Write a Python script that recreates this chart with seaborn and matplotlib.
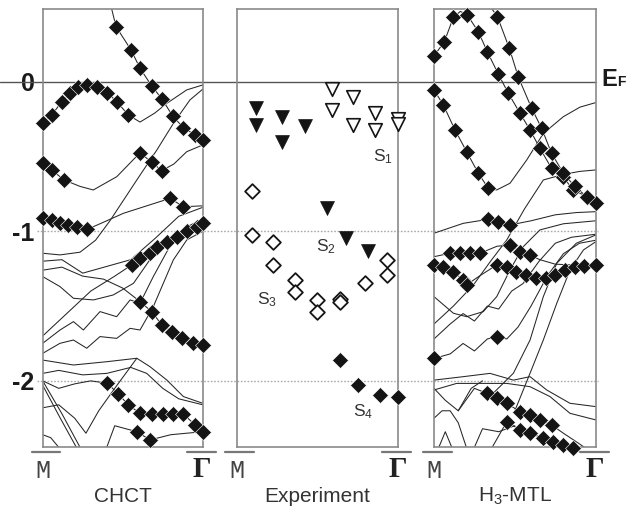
import pandas as pd
import matplotlib.pyplot as plt
import seaborn as sns

sns.set_theme(style='white')
plt.rcParams['font.family'] = ['Liberation Sans', 'DejaVu Sans']
plt.rcParams['mathtext.default'] = 'regular'

# energy range shown (eV, relative to E_F); k runs from M (0) to Gamma (1)
e_top, e_bottom = 0.484, -2.444
level_ticks = [0, -1, -2]
level_labels = ['0', '-1', '-2']
panel_titles = ['CHCT', 'Experiment', 'H$_3$-MTL']

# ---- CHCT calculated bands, (k, E) pairs ----
chct_b1 = [(0.43, 0.49), (0.458, 0.368), (0.552, 0.212), (0.608, 0.09), (0.681, -0.029), (0.747, -0.118),
           (0.812, -0.23), (0.879, -0.307), (0.952, -0.356), (1.0, -0.39)]
chct_b2 = [(0, -0.274), (0.056, -0.223), (0.119, -0.134), (0.171, -0.078), (0.223, -0.037), (0.279, -0.022),
           (0.341, -0.033), (0.404, -0.074), (0.463, -0.134), (0.535, -0.223), (0.608, -0.27), (0.7, -0.21),
           (0.775, -0.145), (0.9, -0.055), (1.0, -0.022)]
chct_b3 = [(0, -0.545), (0.056, -0.59), (0.133, -0.657), (0.233, -0.70), (0.316, -0.724), (0.463, -0.635),
           (0.608, -0.475), (0.681, -0.539), (0.744, -0.595), (0.82, -0.55), (0.9, -0.468), (1.0, -0.423)]
chct_b4 = [(0, -1.147), (0.108, -1.158), (0.233, -1.14), (0.33, -1.06), (0.42, -0.93), (0.5, -0.8),
           (0.588, -0.657), (0.713, -0.457), (0.817, -0.278), (0.92, -0.122), (1.0, -0.05)]
chct_b5 = [(0, -0.913), (0.056, -0.925), (0.108, -0.943), (0.16, -0.958), (0.216, -0.969), (0.279, -0.987),
           (0.4, -0.93), (0.504, -0.88), (0.65, -0.83), (0.796, -0.78), (0.879, -0.836), (1.0, -0.83)]
chct_b6 = [(0, -1.2), (0.12, -1.19), (0.25, -1.28), (0.4, -1.235), (0.55, -1.19), (0.7, -1.05),
           (0.85, -0.9), (1.0, -0.84)]
chct_b7 = [(0, -1.7), (0.15, -1.55), (0.3, -1.4), (0.45, -1.3), (0.556, -1.225), (0.608, -1.18),
           (0.671, -1.147), (0.713, -1.103), (0.775, -1.07), (0.838, -1.036), (0.9, -0.996),
           (0.9625, -0.969), (1.0, -0.943)]
chct_b8 = [(0, -1.303), (0.108, -1.37), (0.192, -1.448), (0.317, -1.459), (0.44, -1.426), (0.567, -1.348),
           (0.67, -1.19), (0.816, -1.058), (0.9, -0.97), (1.0, -0.92)]
chct_b9 = [(0, -1.749), (0.108, -1.66), (0.192, -1.604), (0.254, -1.66), (0.358, -1.537), (0.462, -1.571),
           (0.546, -1.459), (0.608, -1.481), (0.691, -1.303), (0.816, -1.058), (0.9, -0.99), (1.0, -0.96)]
chct_b10 = [(0, -1.816), (0.108, -1.749), (0.192, -1.727), (0.275, -1.782), (0.358, -1.704), (0.462, -1.716),
            (0.546, -1.649), (0.608, -1.66), (0.691, -1.504), (0.816, -1.192), (0.9, -1.058), (1.0, -1.0)]
chct_b11 = [(0, -1.26), (0.12, -1.24), (0.25, -1.3), (0.38, -1.32), (0.5, -1.38), (0.608, -1.47),
            (0.681, -1.537), (0.744, -1.626), (0.806, -1.671), (0.869, -1.715), (0.941, -1.749), (1.0, -1.76)]
chct_b12 = [(0, -1.861), (0.192, -1.894), (0.4, -1.872), (0.588, -1.849), (0.67, -1.905), (0.775, -1.994),
            (0.879, -2.105), (1.0, -2.15)]
chct_b13 = [(0, -1.95), (0.1, -1.93), (0.25, -1.96), (0.4, -1.95), (0.55, -1.91), (0.65, -1.95),
            (0.75, -2.05), (0.85, -2.12), (1.0, -2.16)]
chct_b14 = [(0, -2.0), (0.1, -2.05), (0.2, -2.02), (0.3, -2.0), (0.404, -2.016), (0.473, -2.088),
            (0.535, -2.161), (0.608, -2.217), (0.681, -2.221), (0.754, -2.221), (0.816, -2.221),
            (0.879, -2.221), (0.952, -2.295), (1.0, -2.34)]
chct_b15 = [(0, -2.0), (0.12, -2.22), (0.233, -2.444)]
chct_b16 = [(0, -2.03), (0.11, -2.25), (0.21, -2.444)]
chct_b17 = [(0, -2.18), (0.1, -2.16), (0.2, -2.25), (0.27, -2.35), (0.35, -2.2), (0.45, -2.05), (0.588, -1.849)]
chct_b18 = [(0.4, -2.444), (0.45, -2.3), (0.588, -2.34), (0.671, -2.395), (0.8, -2.36), (1.0, -2.34)]
chct_b19 = [(0, -2.36), (0.05, -2.38), (0.1, -2.444)]

# CHCT diamonds (dominant character)
chct_dia_k = [0.458, 0.552, 0.608, 0.681, 0.747, 0.812, 0.879, 0.952, 1.0,
              0, 0.056, 0.119, 0.171, 0.223, 0.279, 0.341, 0.404, 0.463, 0.535,
              0, 0.056, 0.133, 0.608, 0.681, 0.744,
              0, 0.056, 0.108, 0.16, 0.216, 0.279,
              0.796, 0.879,
              0.556, 0.608, 0.671, 0.713, 0.775, 0.838, 0.9, 0.9625, 1.0,
              0.608, 0.681, 0.744, 0.806, 0.869, 0.941, 1.0,
              0.404, 0.473, 0.535, 0.608, 0.681, 0.754, 0.816, 0.879, 0.952, 1.0,
              0.588, 0.671]
chct_dia_e = [0.368, 0.212, 0.09, -0.029, -0.118, -0.23, -0.307, -0.356, -0.39,
              -0.274, -0.223, -0.134, -0.078, -0.037, -0.022, -0.033, -0.074, -0.134, -0.223,
              -0.545, -0.59, -0.657, -0.475, -0.539, -0.595,
              -0.913, -0.925, -0.943, -0.958, -0.969, -0.987,
              -0.78, -0.836,
              -1.225, -1.18, -1.147, -1.103, -1.07, -1.036, -0.996, -0.969, -0.943,
              -1.47, -1.537, -1.626, -1.671, -1.715, -1.749, -1.76,
              -2.016, -2.088, -2.161, -2.217, -2.221, -2.221, -2.221, -2.221, -2.295, -2.34,
              -2.34, -2.395]

# ---- experiment (ARPES) ----
s1_k = [0.588, 0.588, 0.722, 0.722, 0.856, 0.856, 1.0, 1.0]
s1_e = [-0.051, -0.189, -0.1, -0.289, -0.211, -0.323, -0.251, -0.283]
s2_k = [0.119, 0.119, 0.278, 0.278, 0.423, 0.557, 0.676, 0.814]
s2_e = [-0.178, -0.289, -0.234, -0.401, -0.296, -0.846, -1.047, -1.13]
s3_k = [0.093, 0.093, 0.227, 0.227, 0.361, 0.361, 0.495, 0.495, 0.639, 0.639, 0.794, 0.928, 0.928]
s3_e = [-0.729, -1.025, -1.07, -1.225, -1.326, -1.404, -1.459, -1.537, -1.45, -1.47, -1.348, -1.192, -1.292]
s4_k = [0.639, 0.753, 0.887, 1.0]
s4_e = [-1.86, -2.027, -2.094, -2.106]
state_names = ['S$_1$', 'S$_2$', 'S$_3$', 'S$_4$']
state_k = [0.907, 0.553, 0.186, 0.783]
state_e = [-0.50, -1.103, -1.459, -2.206]

# ---- H3-MTL calculated bands ----
mtl_b1 = [(0, 0.172), (0.064, 0.267), (0.12, 0.43), (0.163, 0.47), (0.206, 0.446), (0.274, 0.334), (0.33, 0.2),
          (0.397, 0.052), (0.46, -0.078), (0.532, -0.211), (0.594, -0.323), (0.655, -0.445), (0.727, -0.579),
          (0.8, -0.64), (0.862, -0.724), (0.944, -0.768), (1.0, -0.81)]
mtl_b2 = [(0.36, 0.484), (0.392, 0.435), (0.466, 0.223), (0.522, 0.029), (0.604, -0.178), (0.666, -0.312),
          (0.727, -0.479), (0.8, -0.612), (0.87, -0.70), (0.944, -0.768), (1.0, -0.813)]
mtl_b3 = [(0, -0.055), (0.058, -0.156), (0.13, -0.323), (0.202, -0.468), (0.274, -0.612), (0.336, -0.713),
          (0.388, -0.724), (0.47, -0.679), (0.573, -0.524), (0.676, -0.346), (0.8, -0.234), (0.903, -0.17),
          (1.0, -0.14)]
mtl_b4 = [(0, -1.013), (0.181, -0.947), (0.336, -0.92), (0.398, -0.936), (0.47, -0.958), (0.6, -0.93),
          (0.75, -0.89), (0.88, -0.875), (1.0, -0.869)]
mtl_b5 = [(0, -1.62), (0.12, -1.5), (0.243, -1.36), (0.35, -1.2), (0.45, -1.058), (0.56, -0.85),
          (0.676, -0.657), (0.8, -0.62), (0.9, -0.6), (1.0, -0.59)]
mtl_b6 = [(0, -1.17), (0.099, -1.147), (0.161, -1.147), (0.223, -1.147), (0.284, -1.147), (0.39, -1.10),
          (0.47, -1.092), (0.532, -1.136), (0.594, -1.16), (0.655, -1.19), (0.75, -1.22), (0.85, -1.225),
          (1.0, -1.225)]
mtl_b7 = [(0, -1.225), (0.058, -1.236), (0.12, -1.27), (0.181, -1.325), (0.202, -1.358), (0.28, -1.3),
          (0.388, -1.225), (0.45, -1.24), (0.532, -1.28), (0.6, -1.31), (0.7, -1.31), (0.8, -1.26),
          (0.9, -1.23), (1.0, -1.225)]
mtl_b8 = [(0, -1.437), (0.12, -1.548), (0.202, -1.571), (0.305, -1.537), (0.388, -1.437), (0.47, -1.259),
          (0.552, -1.103), (0.655, -0.991), (0.8, -0.95), (1.0, -0.93)]
mtl_b9 = [(0, -1.72), (0.1, -1.62), (0.18, -1.55), (0.25, -1.6), (0.33, -1.5), (0.4, -1.52), (0.48, -1.4),
          (0.55, -1.35), (0.65, -1.2), (0.75, -1.08), (0.85, -1.04), (1.0, -1.02)]
mtl_b10 = [(0, -1.85), (0.1, -1.82), (0.18, -1.75), (0.25, -1.8), (0.33, -1.72), (0.388, -1.705),
           (0.45, -1.72), (0.52, -1.64), (0.6, -1.5), (0.7, -1.3), (0.8, -1.15), (0.9, -1.08), (1.0, -1.06)]
mtl_b11 = [(0.35, -2.1), (0.491, -1.949), (0.594, -1.727), (0.676, -1.437), (0.759, -1.214), (0.88, -1.08),
           (1.0, -1.025)]
mtl_b12 = [(0.5, -2.2), (0.594, -1.949), (0.676, -1.727), (0.759, -1.482), (0.841, -1.259), (0.924, -1.125),
           (1.0, -1.07)]
mtl_b13 = [(0, -1.995), (0.181, -1.972), (0.346, -1.95), (0.491, -1.995), (0.594, -1.972), (0.697, -2.061),
           (0.841, -2.15), (1.0, -2.172)]
mtl_b14 = [(0, -2.061), (0.14, -2.017), (0.284, -2.017), (0.45, -2.017), (0.594, -2.039), (0.717, -2.105),
           (0.841, -2.217), (1.0, -2.261)]
mtl_b15 = [(0.15, -2.2), (0.25, -2.05), (0.326, -2.083), (0.388, -2.116), (0.45, -2.15), (0.532, -2.206),
           (0.594, -2.228), (0.656, -2.262), (0.728, -2.295), (0.8, -2.35), (0.87, -2.40), (0.93, -2.444)]
mtl_b16 = [(0.36, -2.444), (0.45, -2.273), (0.532, -2.328), (0.594, -2.35), (0.676, -2.384), (0.738, -2.406),
           (0.8, -2.428), (0.862, -2.451)]
mtl_b17 = [(0, -2.05), (0.07, -2.13), (0.15, -2.2), (0.23, -2.05), (0.3, -2.0)]
mtl_b18 = [(0, -2.25), (0.05, -2.2), (0.1, -2.2), (0.15, -2.28), (0.2, -2.444)]
mtl_b19 = [(0.03, -2.444), (0.07, -2.34), (0.11, -2.444)]
mtl_b20 = [(0.25, -2.444), (0.3, -2.32), (0.4, -2.34), (0.5, -2.3)]

mtl_dia_k = [0, 0.064, 0.12, 0.206, 0.274, 0.33, 0.397, 0.46, 0.532, 0.594, 0.655, 0.727, 0.8, 0.862, 0.944, 1.0,
             0.392, 0.466, 0.522, 0.604, 0.666, 0.727, 0.8, 0.87, 0.944,
             0, 0.058, 0.13, 0.202, 0.274, 0.336,
             0.336, 0.398, 0.47,
             0.099, 0.161, 0.223, 0.284, 0.47, 0.532, 0.594,
             0, 0.058, 0.12, 0.181, 0.202, 0.388, 0.45, 0.51, 0.57, 0.63, 0.69, 0.75, 0.81, 0.87, 0.93, 1.0,
             0.388, 0,
             0.326, 0.388, 0.45, 0.532, 0.594, 0.656, 0.728,
             0.45, 0.532, 0.594, 0.676, 0.738, 0.8, 0.862]
mtl_dia_e = [0.172, 0.267, 0.43, 0.446, 0.334, 0.2, 0.052, -0.078, -0.211, -0.323, -0.445, -0.579, -0.64, -0.724,
             -0.768, -0.81,
             0.435, 0.223, 0.029, -0.178, -0.312, -0.479, -0.612, -0.70, -0.768,
             -0.055, -0.156, -0.323, -0.468, -0.612, -0.713,
             -0.92, -0.936, -0.958,
             -1.147, -1.147, -1.147, -1.147, -1.092, -1.136, -1.16,
             -1.225, -1.236, -1.27, -1.325, -1.358, -1.225, -1.24, -1.27, -1.29, -1.31, -1.31, -1.29, -1.26,
             -1.24, -1.23, -1.225,
             -1.705, -1.849,
             -2.083, -2.116, -2.15, -2.206, -2.228, -2.262, -2.295,
             -2.273, -2.328, -2.35, -2.384, -2.406, -2.428, -2.451]

chct_bands = [chct_b1, chct_b2, chct_b3, chct_b4, chct_b5, chct_b6, chct_b7, chct_b8, chct_b9, chct_b10,
              chct_b11, chct_b12, chct_b13, chct_b14, chct_b15, chct_b16, chct_b17, chct_b18, chct_b19]
mtl_bands = [mtl_b1, mtl_b2, mtl_b3, mtl_b4, mtl_b5, mtl_b6, mtl_b7, mtl_b8, mtl_b9, mtl_b10,
             mtl_b11, mtl_b12, mtl_b13, mtl_b14, mtl_b15, mtl_b16, mtl_b17, mtl_b18, mtl_b19, mtl_b20]


def band_frame(bands):
    rows = []
    for i, band in enumerate(bands):
        for k, e in band:
            rows.append((i, k, e))
    return pd.DataFrame(rows, columns=['band', 'k', 'E'])


fig = plt.figure(figsize=(6.33, 5.15), dpi=100)
bottom, height = 0.1315, 0.8505
ax_l = fig.add_axes([0.0675, bottom, 0.2528, height])
ax_m = fig.add_axes([0.3739, bottom, 0.2553, height])
ax_r = fig.add_axes([0.6856, bottom, 0.2555, height])
axes = [ax_l, ax_m, ax_r]

line_col = '#262626'
dia_col = '#141414'

# calculated bands
for ax, bands in [(ax_l, chct_bands), (ax_r, mtl_bands)]:
    sns.lineplot(data=band_frame(bands), x='k', y='E', units='band', estimator=None, sort=False,
                 color=line_col, lw=0.75, ax=ax, legend=False, zorder=2)

sns.scatterplot(x=chct_dia_k, y=chct_dia_e, marker='D', s=66, color=dia_col, edgecolor='white',
                linewidth=0.4, ax=ax_l, zorder=3, clip_on=False)
sns.scatterplot(x=mtl_dia_k, y=mtl_dia_e, marker='D', s=66, color=dia_col, edgecolor='white',
                linewidth=0.4, ax=ax_r, zorder=3, clip_on=False)

# experiment markers
sns.scatterplot(x=s1_k, y=s1_e, marker='v', s=95, color='white', edgecolor=dia_col, linewidth=1.2,
                ax=ax_m, zorder=3, clip_on=False)
sns.scatterplot(x=s2_k, y=s2_e, marker='v', s=100, color=dia_col, edgecolor=dia_col, linewidth=0.5,
                ax=ax_m, zorder=3)
sns.scatterplot(x=s3_k, y=s3_e, marker='D', s=56, color='white', edgecolor=dia_col, linewidth=1.3,
                ax=ax_m, zorder=3)
sns.scatterplot(x=s4_k, y=s4_e, marker='D', s=66, color=dia_col, edgecolor='white', linewidth=0.4,
                ax=ax_m, zorder=3, clip_on=False)
for name, k, e in zip(state_names, state_k, state_e):
    ax_m.text(k, e, name, ha='center', va='center', fontsize=12.5, color='#333333', zorder=4)

for ax, title in zip(axes, panel_titles):
    ax.set_xlim(0, 1)
    ax.set_ylim(e_bottom, e_top)
    ax.set_facecolor('none')
    ax.set_xlabel('')
    ax.set_ylabel('')
    ax.set_xticks([])
    for sp in ax.spines.values():
        sp.set_color('#8a8a8a')
        sp.set_linewidth(1.2)
    # high-symmetry point labels with bars
    ax.plot([-0.07, 0.11], [-0.01, -0.01], transform=ax.transAxes, clip_on=False, color='#777777', lw=1.6)
    ax.plot([0.90, 1.08], [-0.01, -0.01], transform=ax.transAxes, clip_on=False, color='#777777', lw=1.6)
    ax.text(0.0, -0.055, 'M', transform=ax.transAxes, ha='center', va='center', fontsize=18,
            family='Liberation Mono', color='#444444')
    ax.text(0.995, -0.05, 'Γ', transform=ax.transAxes, ha='center', va='center', fontsize=21,
            family='Liberation Serif', fontweight='bold', color='#222222')
    ax.text(0.5, -0.113, title, transform=ax.transAxes, ha='center', va='center', fontsize=15,
            color='#333333')

ax_l.set_yticks(level_ticks)
ax_l.set_yticklabels(level_labels, fontweight='bold', fontsize=18, color='#1a1a1a')
ax_l.tick_params(axis='y', length=0, pad=6)
for ax in [ax_m, ax_r]:
    ax.set_yticks([])

# Fermi level and reference levels spanning all panels
yt = ax_l.get_yaxis_transform()
ax_l.plot([-0.27, 3.456], [0, 0], transform=yt, clip_on=False, color='#555555', lw=1.0, zorder=1)
for lvl in level_ticks[1:]:
    ax_l.plot([-0.036, 3.47], [lvl, lvl], transform=yt, clip_on=False, color='#aaaaaa', lw=1.0,
              ls=(0, (1.2, 1.2)), zorder=1)

ry = ax_r.get_yaxis_transform()
ax_r.text(1.035, -0.03, 'E', transform=ry, ha='left', va='baseline', fontsize=17, fontweight='bold',
          color='#1a1a1a')
ax_r.text(1.135, -0.03, 'F', transform=ry, ha='left', va='baseline', fontsize=10, fontweight='bold',
          color='#1a1a1a')

fig.savefig('out.png', dpi=100)
